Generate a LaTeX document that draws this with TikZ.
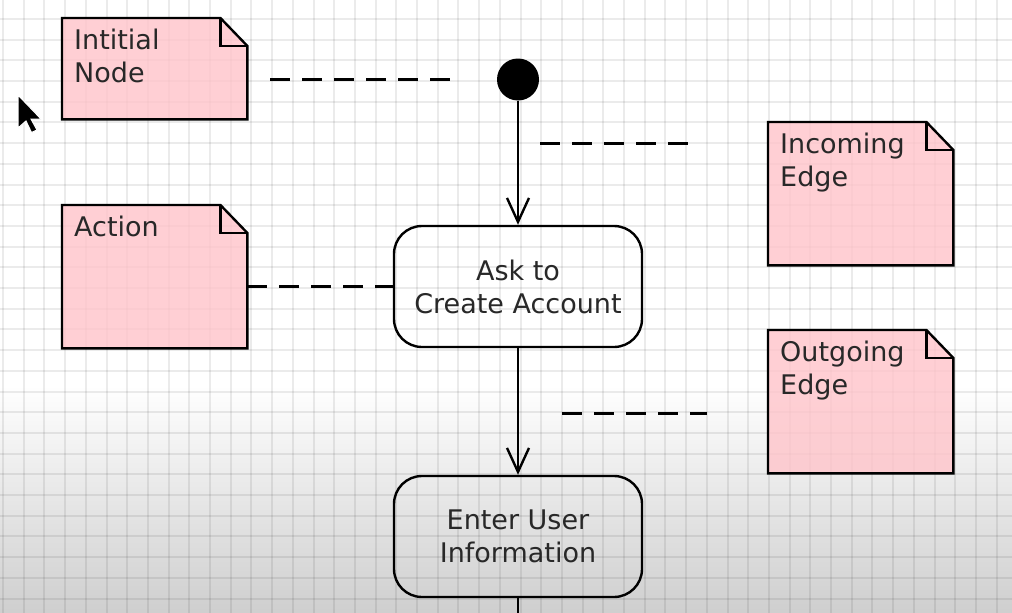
\documentclass[tikz,border=0pt]{standalone}
\usepackage{fontspec}
\setmainfont{DejaVu Sans}
\usetikzlibrary{positioning,arrows.meta,calc}
\pgfdeclarelayer{grid}
\pgfdeclarelayer{paper}
\pgfsetlayers{grid,paper,main}
\definecolor{notepink}{RGB}{255,196,202}
\definecolor{inkgray}{RGB}{40,40,40}
\tikzset{
	uml/.style={x=1pt,y=-1pt,font=\fontsize{27}{33}\selectfont},
	flow/.style={line width=2.4pt,->,>={Straight Barb[length=24pt,width=22pt]}},
	start/.style={circle,fill=black,minimum size=42pt,inner sep=0pt},
	activity/.style={rectangle,rounded corners=28pt,draw,line width=2.4pt,minimum width=248pt,
		minimum height=121pt,align=center,text=inkgray},
	note/.style={rectangle,anchor=north west,inner sep=0pt,minimum width=185pt},
	notetext/.style={anchor=north west,align=left,inner xsep=12pt,inner ysep=11pt,text=inkgray},
	notelink/.style={dash pattern=on 20pt off 12pt,line width=2.4pt},
	notepaper/.style={fill=notepink,fill opacity=0.8,draw=black,line width=2.4pt},
	gridline/.style={line width=2pt,draw=black,draw opacity=0.08}
}

\begin{document}
\begin{tikzpicture}[uml]
	\useasboundingbox (0,0) rectangle (1012,613);
	
	% squared paper
	\begin{pgfonlayer}{grid}
		\fill[white] (0,0) rectangle (1012,613);
		\shade[top color=white,bottom color=gray!38] (0,385) rectangle (1012,613);
		\foreach \i in {0,...,48}
			\draw[gridline] ({3+20.7*\i},0) -- ({3+20.7*\i},613);
		\foreach \j in {1,...,29}
			\draw[gridline] (0,{-1.8+20.7*\j}) -- (1012,{-1.8+20.7*\j});
	\end{pgfonlayer}
	
	\node[start] (init) at (518,79.5) {};
	\node[activity] (ask) at (518,286.5) {Ask to\\Create Account};
	\node[activity] (enter) at (518,536.5) {Enter User\\Information};
	\coordinate (next) at (518,613);
	
	\node[note,minimum height=101pt,label={[notetext]north west:Intitial\\Node}] (inote) at (62,18) {};
	\node[note,minimum height=143pt,label={[notetext]north west:Action}] (anote) at (62,205) {};
	\node[note,minimum height=143pt,label={[notetext]north west:Incoming\\Edge}] (inedge) at (768,122) {};
	\node[note,minimum height=143pt,label={[notetext]north west:Outgoing\\Edge}] (outedge) at (768,330) {};
	
	\begin{pgfonlayer}{paper}
		\foreach \n in {inote,anote,inedge,outedge}{
			\draw[notepaper] (\n.north west) -- ([xshift=-27pt]\n.north east)
				-- ([yshift=-28pt]\n.north east) -- (\n.south east) -- (\n.south west) -- cycle;
			\draw[line width=2.4pt] ([xshift=-27pt]\n.north east) |- ([yshift=-28pt]\n.north east);
		}
	\end{pgfonlayer}
	
	\draw[flow] (init) -- (ask);
	\draw[flow] (ask) -- (enter);
	\draw[flow,-] (enter) -- (next);
	
	% notes point at things
	\coordinate (inmark) at (540,143.5);
	\coordinate (outmark) at (562,413.5);
	\draw[notelink,shorten <=23pt,shorten >=42pt] (inote.east |- init) -- (init.west);
	\draw[notelink] (anote.east |- ask) -- (ask.west);
	\draw[notelink,shorten >=80pt] (inmark) -- (inmark -| inedge.west);
	\draw[notelink,shorten >=61pt] (outmark) -- (outmark -| outedge.west);
	
	% mouse pointer
	\fill[black,draw=white,line width=1pt,shift={(18,95)}] (0,0) -- (0,33) -- (8,26)
		-- (13.5,37.5) -- (19,35) -- (13,24) -- (23,24) -- cycle;
\end{tikzpicture}
\end{document}
